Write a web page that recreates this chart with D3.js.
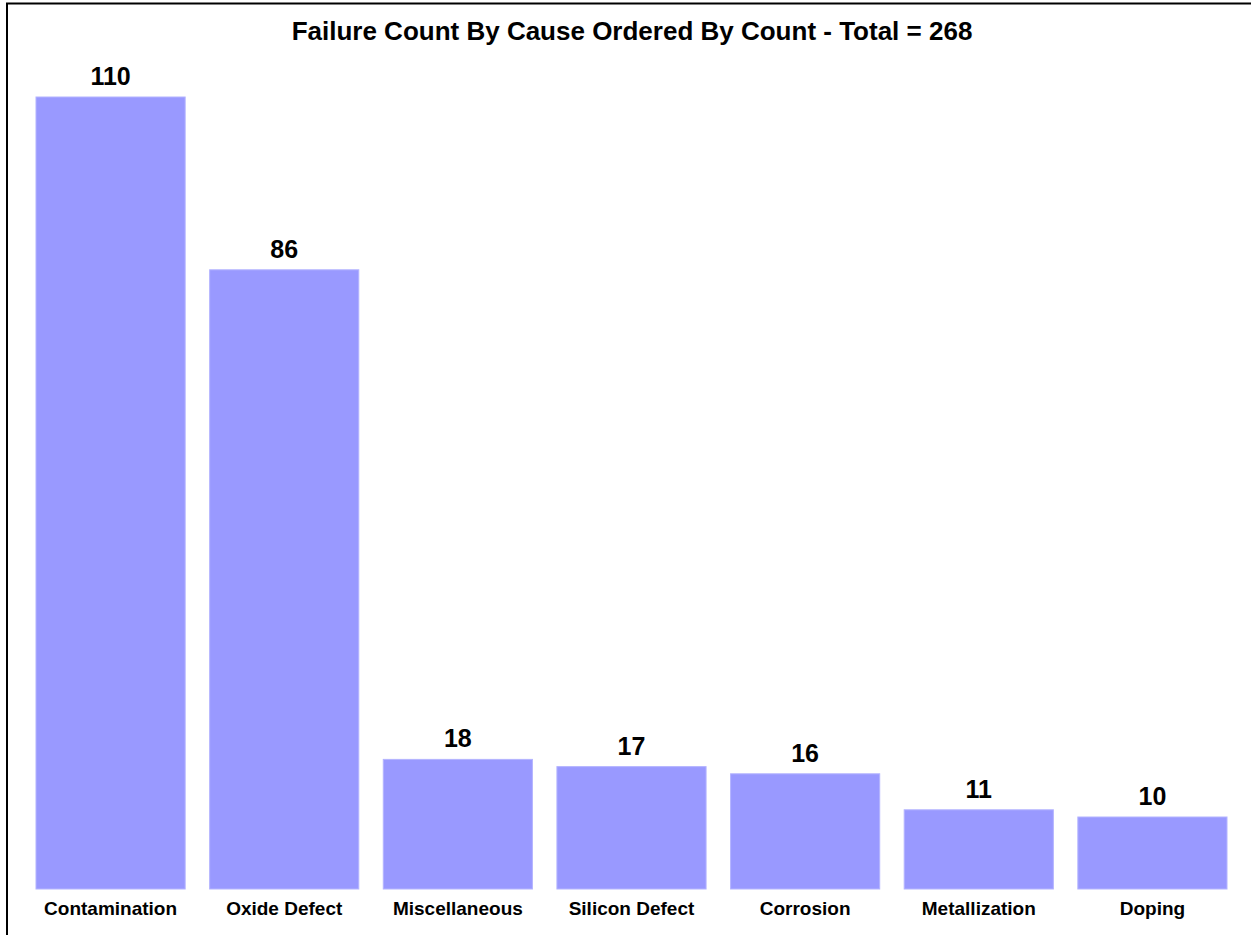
<!DOCTYPE html>
<html>
<head>
<meta charset="utf-8">
<script src="https://cdn.jsdelivr.net/npm/d3@7/dist/d3.min.js"></script>
<style>
html,body{margin:0;padding:0;background:#fff;}
svg{display:block;}
text{font-family:"Liberation Sans",Arial,sans-serif;font-weight:bold;fill:#000;}
</style>
</head>
<body>
<script>
const categories = ["Contamination","Oxide Defect","Miscellaneous","Silicon Defect","Corrosion","Metallization","Doping"];
const counts = [110, 86, 18, 17, 16, 11, 10];
const titleText = "Failure Count By Cause Ordered By Count - Total = 268";

const W = 1251, H = 935;
const svg = d3.select("body").append("svg").attr("width", W).attr("height", H);

// frame (top and left edges visible)
svg.append("line").attr("x1", 6).attr("x2", W).attr("y1", 3.5).attr("y2", 3.5)
  .attr("stroke", "#000").attr("stroke-width", 2);
svg.append("line").attr("x1", 7).attr("x2", 7).attr("y1", 3).attr("y2", H)
  .attr("stroke", "#000").attr("stroke-width", 2);

const x = d3.scaleBand().domain(categories).range([36, 1227]).paddingInner(0.141).paddingOuter(0);
const y = d3.scaleLinear().domain([0, 110]).range([889, 97]);

svg.append("text").attr("x", 632).attr("y", 40).attr("text-anchor", "middle")
  .style("font-size", "26px").text(titleText);

const data = categories.map((c, i) => ({c, v: counts[i]}));

svg.selectAll("rect.bar").data(data).enter().append("rect").attr("class", "bar")
  .attr("x", d => x(d.c)).attr("width", x.bandwidth())
  .attr("y", d => y(d.v)).attr("height", d => y(0) - y(d.v))
  .attr("fill", "#9999ff").attr("stroke", "#b4b4ff").attr("stroke-width", 1);

svg.selectAll("text.val").data(data).enter().append("text").attr("class", "val")
  .attr("x", d => x(d.c) + x.bandwidth()/2).attr("y", d => y(d.v) - 12)
  .attr("text-anchor", "middle").style("font-size", "25px").text(d => d.v);

const xAxis = d3.axisBottom(x).tickSize(0).tickPadding(0);
const ax = svg.append("g").attr("transform", "translate(0,889)").call(xAxis);
ax.select(".domain").remove();
ax.selectAll("text").attr("dy", null).attr("y", 26)
  .style("font-size", "19px").style("font-family", "'Liberation Sans',Arial,sans-serif")
  .style("font-weight", "bold").attr("fill", "#000");
</script>
</body>
</html>
